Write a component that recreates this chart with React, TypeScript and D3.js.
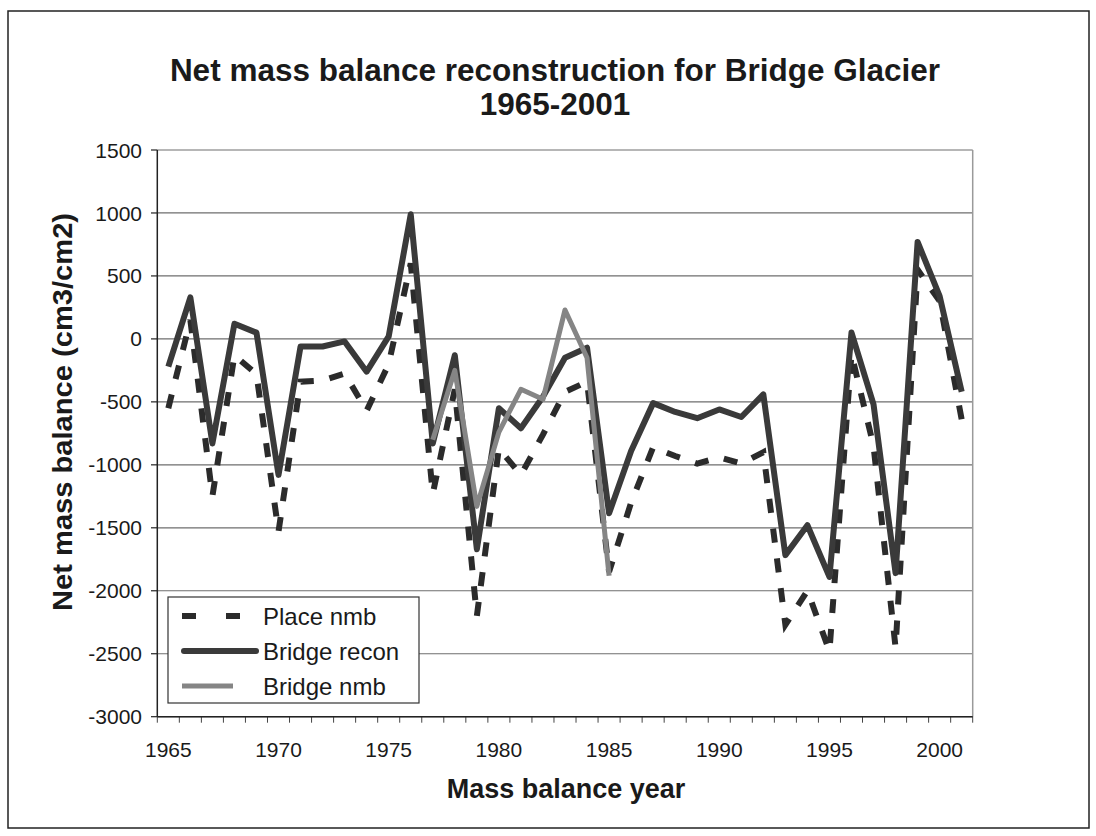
import React from "react";
import * as d3 from "d3";

const years = [1965,1966,1967,1968,1969,1970,1971,1972,1973,1974,1975,1976,1977,1978,1979,1980,1981,1982,1983,1984,1985,1986,1987,1988,1989,1990,1991,1992,1993,1994,1995,1996,1997,1998,1999,2000,2001];
const placeNmb = [-550,150,-1250,-130,-280,-1530,-340,-330,-275,-570,-200,600,-1230,-400,-2200,-870,-1080,-760,-420,-340,-1850,-1300,-860,-930,-990,-940,-990,-900,-2270,-2000,-2480,-120,-850,-2450,550,300,-640];
const bridgeRecon = [-220,330,-830,120,50,-1080,-60,-60,-20,-260,20,990,-830,-130,-1670,-550,-710,-460,-150,-70,-1385,-890,-510,-580,-630,-560,-620,-440,-1717,-1480,-1890,50,-520,-1860,770,340,-420];
const bridgeNmbYears = [1977,1978,1979,1980,1981,1982,1983,1984,1985];
const bridgeNmbValues = [-800,-250,-1330,-740,-400,-480,230,-150,-1880];
const yTicks = [1500,1000,500,0,-500,-1000,-1500,-2000,-2500,-3000];
const xLabelYears = [1965,1970,1975,1980,1985,1990,1995,2000];
const legendLabels = ["Place nmb","Bridge recon","Bridge nmb"];

const FONT = "'Liberation Sans', Arial, Helvetica, sans-serif";

export default function App() {
  const W = 1096, H = 836;
  const left = 157.3, right = 972.7, top = 150, bottom = 716.7;
  const x = d3.scaleBand<number>().domain(years).range([left, right]);
  const cx = (yr: number) => (x(yr) as number) + x.bandwidth() / 2;
  const y = d3.scaleLinear().domain([-3000, 1500]).range([bottom, top]);

  const line = d3.line<[number, number]>().x(d => cx(d[0])).y(d => y(d[1]));
  const placePts = years.map((yr, i) => [yr, placeNmb[i]] as [number, number]);
  const reconPts = years.map((yr, i) => [yr, bridgeRecon[i]] as [number, number]);
  const nmbPts = bridgeNmbYears.map((yr, i) => [yr, bridgeNmbValues[i]] as [number, number]);

  const boundaries = years.map(yr => x(yr) as number).concat([right]);

  const legX = 168, legY = 597, legW = 251, legH = 106;
  const rowY = [616, 651, 686];

  return (
    <svg width={W} height={H} style={{ position: "absolute", left: 0, top: 0, background: "#fff" }} fontFamily={FONT}>
      <rect x={0} y={0} width={W} height={H} fill="#fff" />
      <rect x={8} y={11} width={1081} height={817} fill="none" stroke="#222" strokeWidth={1.5} />
      <text x={555} y={81} textAnchor="middle" fontSize={31.5} fontWeight="bold" fill="#1a1a1a">Net mass balance reconstruction for Bridge Glacier</text>
      <text x={555} y={115} textAnchor="middle" fontSize={31.5} fontWeight="bold" fill="#1a1a1a">1965-2001</text>

      {yTicks.map(t => (
        <line key={"g" + t} x1={left} x2={right} y1={y(t)} y2={y(t)} stroke="#6e6e6e" strokeWidth={1.2} />
      ))}
      <line x1={right} x2={right} y1={top} y2={bottom} stroke="#9a9a9a" strokeWidth={1.5} />

      {yTicks.map(t => (
        <g key={"yt" + t}>
          <line x1={151} x2={left} y1={y(t)} y2={y(t)} stroke="#222" strokeWidth={1.2} />
          <text x={142} y={y(t)} dy="0.36em" textAnchor="end" fontSize={21} fill="#1a1a1a">{t}</text>
        </g>
      ))}
      {boundaries.map((b, i) => (
        <line key={"xt" + i} x1={b} x2={b} y1={bottom} y2={bottom + 6} stroke="#444" strokeWidth={1} />
      ))}
      {xLabelYears.map(yr => (
        <text key={"xl" + yr} x={cx(yr)} y={757} textAnchor="middle" fontSize={21} fill="#1a1a1a">{yr}</text>
      ))}

      <path d={line(placePts) || ""} fill="none" stroke="#2b2b2b" strokeWidth={6} strokeDasharray="14,16" />
      <path d={line(reconPts) || ""} fill="none" stroke="#3a3a3a" strokeWidth={6} strokeLinejoin="round" />
      <path d={line(nmbPts) || ""} fill="none" stroke="#858585" strokeWidth={5} strokeLinejoin="round" />

      <line x1={left} x2={left} y1={top} y2={bottom} stroke="#222" strokeWidth={1.5} />
      <line x1={left} x2={right} y1={bottom} y2={bottom} stroke="#222" strokeWidth={1.5} />

      <rect x={legX} y={legY} width={legW} height={legH} fill="#fff" stroke="#333" strokeWidth={1.2} />
      <line x1={182} x2={240} y1={rowY[0]} y2={rowY[0]} stroke="#2b2b2b" strokeWidth={6} strokeDasharray="14,30" />
      <line x1={184} x2={256} y1={rowY[1]} y2={rowY[1]} stroke="#3a3a3a" strokeWidth={6} strokeLinecap="round" />
      <line x1={182} x2={233} y1={rowY[2]} y2={rowY[2]} stroke="#858585" strokeWidth={5} />
      {legendLabels.map((l, i) => (
        <text key={l} x={263} y={rowY[i]} dy="0.36em" fontSize={24} fill="#1a1a1a">{l}</text>
      ))}

      <text x={566} y={798} textAnchor="middle" fontSize={27} fontWeight="bold" fill="#1a1a1a">Mass balance year</text>
      <text transform="translate(72,412) rotate(-90)" textAnchor="middle" fontSize={28} fontWeight="bold" fill="#1a1a1a" textLength={398} lengthAdjust="spacingAndGlyphs">Net mass balance (cm3/cm2)</text>
    </svg>
  );
}
